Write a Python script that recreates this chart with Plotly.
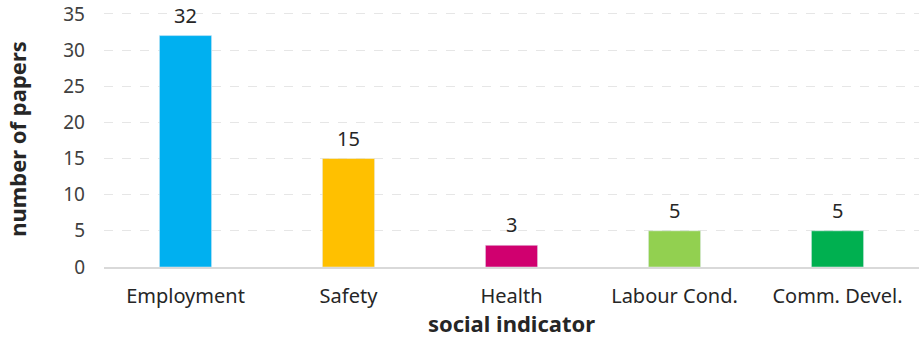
import plotly.graph_objects as go

categories = ["Employment", "Safety", "Health", "Labour Cond.", "Comm. Devel."]
values = [32, 15, 3, 5, 5]
colors = ["#00B0F0", "#FFC000", "#D0006F", "#92D050", "#00B050"]
y_ticks = [0, 5, 10, 15, 20, 25, 30, 35]

fig = go.Figure(go.Bar(x=categories, y=values, marker_color=colors))
for c, v in zip(categories, values):
    fig.add_annotation(x=c, y=v, text=str(v), showarrow=False, yanchor="bottom",
                       yshift=5, font=dict(size=20, color="#262626"))
fig.update_layout(
    width=919, height=338, margin=dict(l=104, r=0, t=11, b=71),
    paper_bgcolor="white", plot_bgcolor="white",
    font=dict(family="Noto Sans", size=20, color="#404040"),
    bargap=0.68, showlegend=False,
)
fig.update_xaxes(
    showline=True, linecolor="#D9D9D9", linewidth=2, ticks="",
    tickfont=dict(size=20, color="#262626"), ticklabelstandoff=10,
    title=dict(text="<b>social indicator</b>", font=dict(size=22, color="#262626"), standoff=6),
)
fig.update_yaxes(
    range=[0, 35.4], tickvals=y_ticks,
    showgrid=True, gridcolor="#E6E6E6", griddash="dash", automargin=False,
    ticklabeloverflow="allow",
    zeroline=False, ticks="", tickfont=dict(size=19, color="#404040"), ticklabelstandoff=18,
    title=dict(text="<b>number of papers</b>", font=dict(size=22, color="#262626"), standoff=30),
)
fig.write_html("out.html")
